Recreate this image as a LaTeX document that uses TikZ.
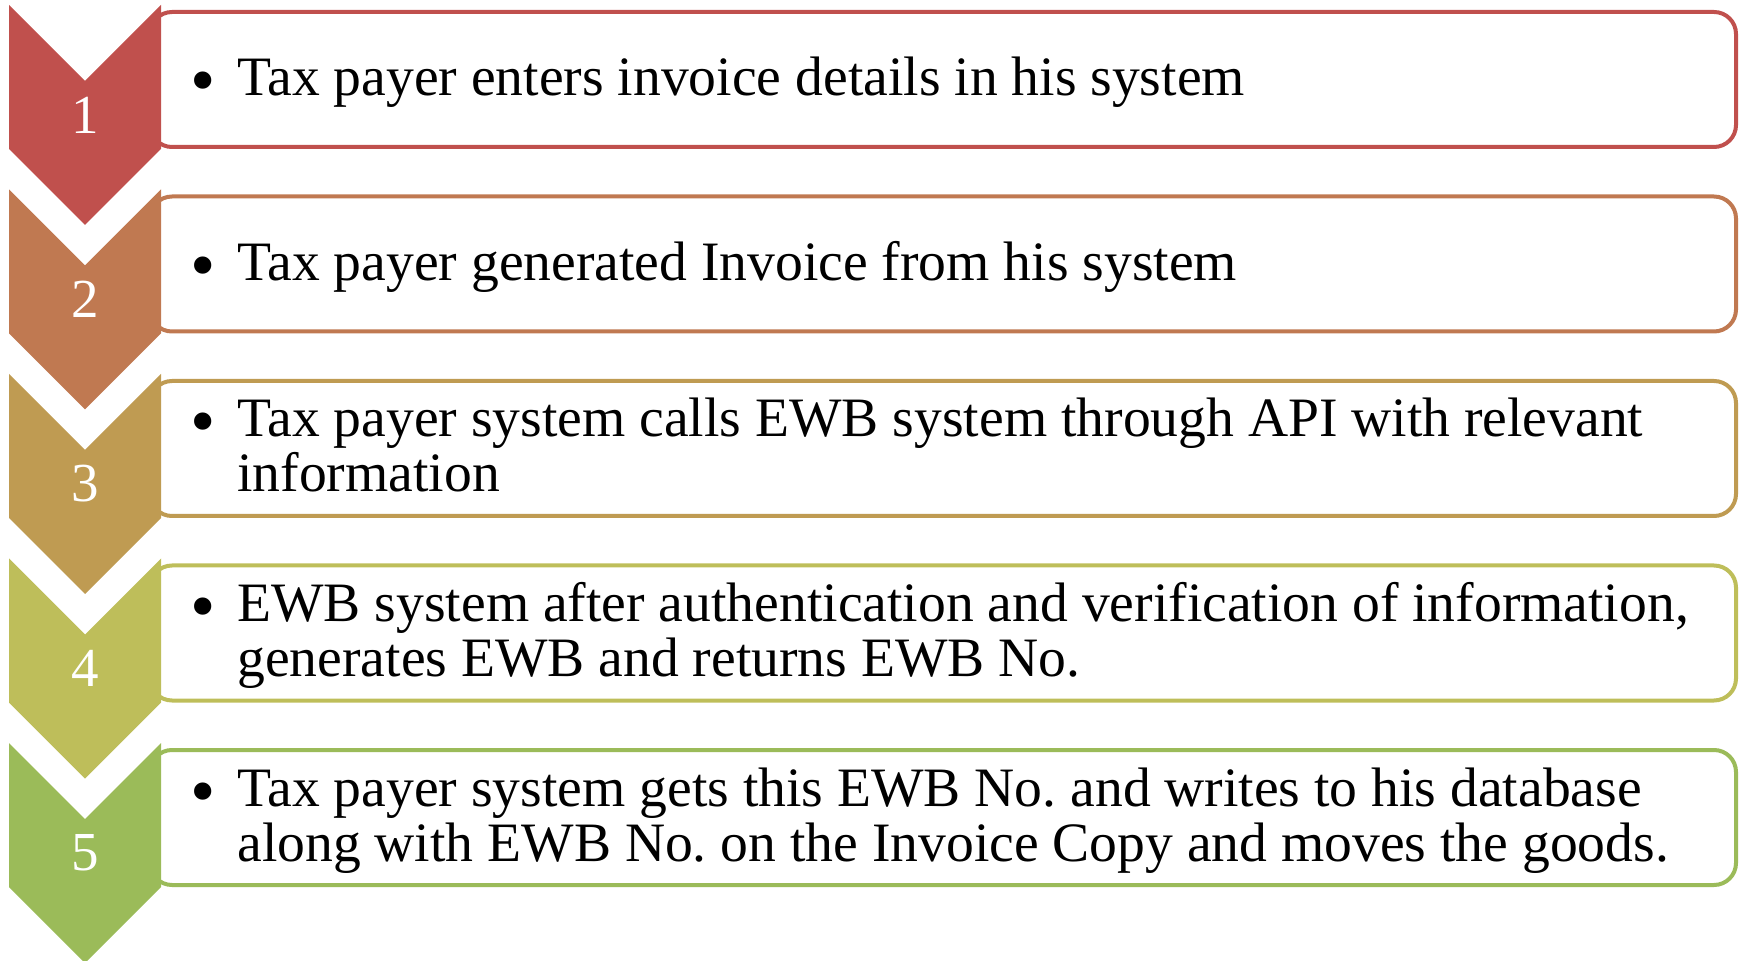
\documentclass[tikz,border=0pt]{standalone}
\usepackage{fontspec}
\setmainfont{Liberation Serif}
\usetikzlibrary{positioning}
\definecolor{stepA}{RGB}{192,80,77}
\definecolor{stepB}{RGB}{192,121,81}
\definecolor{stepC}{RGB}{191,155,82}
\definecolor{stepD}{RGB}{190,190,90}
\definecolor{stepE}{RGB}{155,187,89}
\lineskiplimit=-100pt
\frenchspacing
\newcommand\bigbullet{\makebox[23.5pt][l]{\raisebox{-4.5pt}{\scalebox{1.3}{\textbullet}}}}
\tikzset{
		numlabel/.style={text=white,inner sep=0pt,font=\fontsize{27.5}{27.5}\selectfont},
		itemtext/.style={anchor=base west,align=left,inner sep=0pt,font=\fontsize{27.8}{27.5}\selectfont},
		stepbox/.style={draw=#1,line width=2pt,rounded corners=11pt,fill=white}
	}

\begin{document}
\begin{tikzpicture}[x=0.5pt, y=-0.5pt] % (one unit = one pixel of the reference)
		\useasboundingbox (0,0) rectangle (1744,961);
		\foreach \n/\col/\base/\txt [count=\i from 0] in {
			1/stepA/91/{Tax payer enters invoice details in his system},
			2/stepB/91/{Tax payer generated Invoice from his system},
			3/stepC/118/{Tax payer system calls EWB system through API with relevant\\\hspace*{23.5pt}information},
			4/stepD/118/{EWB system after authentication and verification of information,\\\hspace*{23.5pt}generates EWB and returns EWB No.},
			5/stepE/118/{Tax payer system gets this EWB No. and writes to his database\\\hspace*{23.5pt}along with EWB No. on the Invoice Copy and moves the goods.}}{
			\pgfmathsetmacro\ytop{5+184.5*\i}
			\draw[stepbox=\col] (150,\ytop+7) rectangle (1736,\ytop+142); % the text box
			\fill[\col] (9,\ytop) -- (85,\ytop+76) -- (161,\ytop) -- (161,\ytop+144) -- (85,\ytop+220) -- (9,\ytop+144) -- cycle; % the chevron
			\node[numlabel] (num\n) at (85,\ytop+110) {\n};
			\node[itemtext] (item\n) at (190,\ytop+\base) {\bigbullet\txt};
		}
	\end{tikzpicture}
\end{document}
